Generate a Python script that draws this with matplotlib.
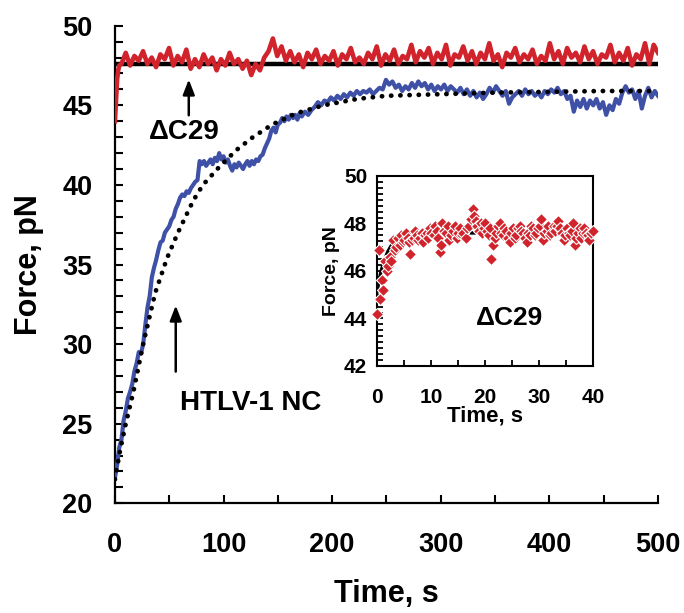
import numpy as np
import matplotlib
matplotlib.use("Agg")
import matplotlib.pyplot as plt
from matplotlib.ticker import MultipleLocator

plt.rcParams["font.family"] = ["Liberation Sans", "DejaVu Sans"]
plt.rcParams["font.weight"] = "bold"

# ---- main panel data ----
# dC29 trace: first few seconds, then every ~4 s
red_t_start = [0, 1, 2, 3, 4]
red_f_start = [44.0, 45.3, 46.6, 47.2, 47.5]
red_f = [47.6, 48.3, 47.5, 48.1, 47.8, 48.4, 47.6, 48.0, 47.4, 48.2, 47.9, 48.6, 47.5, 48.1,
         47.7, 48.5, 47.3, 47.9, 47.4, 48.2, 47.6, 48.0, 47.2, 47.9, 47.5, 48.3, 47.6, 47.9,
         47.3, 47.8, 46.9, 47.6, 47.2, 48.0, 48.4, 49.2, 48.1, 48.7, 47.8, 48.4, 47.7, 48.2,
         47.4, 48.3, 47.9, 48.5, 47.6, 48.1, 47.8, 48.4, 47.5, 48.2, 47.9, 48.6, 47.7, 48.0,
         47.6, 48.3, 47.9, 48.7, 47.5, 48.2, 47.8, 48.5, 47.6, 48.1, 47.9, 48.8, 47.7, 48.4,
         48.0, 48.6, 47.6, 48.3, 47.9, 48.8, 47.5, 48.2, 48.0, 48.7, 47.8, 48.4, 47.6, 48.3,
         47.9, 48.9, 47.8, 48.2, 47.4, 48.3, 48.0, 48.6, 47.7, 48.2, 47.9, 48.5, 47.6, 48.1,
         47.8, 48.9, 47.9, 48.4, 47.6, 48.6, 48.0, 48.3, 47.7, 48.7, 47.9, 48.4, 47.6, 48.2,
         48.0, 48.8, 47.7, 48.3, 47.8, 48.6, 47.5, 48.2, 47.9, 48.9, 47.6, 48.8, 48.3]
red_t = red_t_start + list(np.linspace(6, 500, len(red_f)))
red_f = red_f_start + red_f

# HTLV-1 NC trace, rising part (every 2 s up to 170 s)
blue_f_rise = [21.6, 22.4, 23.5, 24.0, 25.2, 25.8, 26.6, 27.0, 27.5, 28.3, 28.8, 29.5, 29.4,
               30.0, 31.2, 32.3, 33.0, 34.2, 34.8, 35.3, 35.9, 36.4, 36.5, 37.0, 37.2, 37.4,
               37.8, 38.0, 38.5, 38.8, 39.2, 39.4, 39.3, 39.6, 39.5, 39.8, 40.0, 40.2, 40.3,
               41.5, 41.3, 41.5, 41.2, 41.4, 41.6, 41.3, 41.7, 41.5, 42.0, 41.6, 41.8, 41.4,
               41.6, 41.2, 40.9, 41.3, 41.1, 41.4, 41.2, 41.0, 41.3, 41.5, 41.2, 41.5, 41.3,
               41.6, 41.5, 41.8, 41.9, 42.3, 42.6, 42.9, 43.4, 43.6, 43.3, 43.8, 43.9, 44.2,
               44.0, 44.3, 44.1, 44.4, 44.2, 44.4, 44.1, 44.5]
# plateau part (every 3 s from 172 s)
blue_f_late = [44.3, 44.6, 44.4, 44.7, 44.9, 45.2, 45.0, 45.3, 45.2, 45.5, 45.3, 45.6, 45.4,
               45.7, 45.5, 45.8, 45.6, 45.9, 45.7, 45.9, 45.8, 46.0, 45.7, 45.9, 46.1, 46.0,
               46.6, 46.3, 46.5, 46.1, 46.3, 45.9, 46.2, 46.0, 46.4, 46.1, 46.5, 46.2, 46.4,
               46.0, 46.3, 45.9, 46.2, 46.0, 46.3, 45.9, 46.2, 46.0, 45.8, 46.1, 45.7, 46.0,
               45.6, 45.9, 45.5, 45.8, 45.4, 45.7, 46.1, 45.8, 46.2, 45.9, 45.6, 45.9, 45.1,
               45.5, 45.7, 45.9, 45.6, 46.0, 45.7, 45.9, 45.6, 45.8, 45.5, 45.9, 45.7, 46.0,
               45.8, 46.1, 45.7, 45.9, 45.4, 45.6, 44.6, 45.3, 44.9, 45.4, 44.8, 45.3, 45.0,
               45.4, 44.8, 45.2, 44.4, 45.0, 44.7, 45.4, 45.1, 45.8, 46.2, 45.8, 46.0, 45.4,
               45.9, 44.8, 45.6, 46.1, 45.5, 45.9, 45.6]
blue_t = list(np.linspace(0, 170, len(blue_f_rise))) + list(np.linspace(172, 500, len(blue_f_late)))
blue_f = blue_f_rise + blue_f_late

# dotted fit through the HTLV-1 NC trace
fit_t = [0, 5, 10, 17, 26, 37, 48, 58, 72, 81, 97, 112, 127, 145, 167, 192, 223, 250, 300,
         350, 400, 450, 500]
fit_f = [21.5, 23.4, 25.0, 27.0, 30.0, 33.2, 35.4, 37.0, 39.0, 40.0, 41.2, 42.2, 43.0, 43.8,
         44.5, 45.0, 45.4, 45.6, 45.7, 45.8, 45.85, 45.9, 45.9]

# solid fit through the dC29 trace
fit2_t = [0, 500]
fit2_f = [47.6, 47.6]

# ---- inset data (first 40 s of dC29) ----
ins_t = [0.0, 0.3, 0.6, 0.9, 1.2, 1.5, 1.8, 2.1, 2.4, 2.7,
         3.0, 3.3, 3.6, 3.9, 4.2, 4.5, 4.8, 5.1, 5.4, 5.7,
         6.0, 6.2, 6.5, 6.8, 7.1, 7.4, 7.7, 8.0, 8.3, 8.6,
         8.9, 9.2, 9.5, 9.8, 10.1, 10.5, 10.8, 11.1, 11.4, 11.6,
         11.8, 12.1, 12.4, 12.8, 13.1, 13.4, 13.7, 14.0, 14.4, 14.8,
         15.1, 15.4, 15.7, 16.0, 16.4, 16.7, 17.0, 17.4, 17.7, 18.0,
         18.3, 18.6, 18.9, 19.2, 19.5, 19.8, 20.1, 20.4, 20.7, 21.0,
         21.2, 21.5, 21.8, 22.1, 22.4, 22.7, 23.0, 23.3, 23.6, 23.9,
         24.2, 24.6, 24.9, 25.2, 25.5, 25.8, 26.1, 26.4, 26.7, 27.0,
         27.4, 27.7, 28.0, 28.3, 28.6, 28.9, 29.2, 29.5, 29.8, 30.1,
         30.4, 30.7, 31.0, 31.4, 31.7, 32.0, 32.3, 32.7, 33.0, 33.3,
         33.6, 33.9, 34.2, 34.6, 34.9, 35.2, 35.5, 35.8, 36.1, 36.3,
         36.6, 36.9, 37.2, 37.5, 37.8, 38.1, 38.4, 38.7, 39.0, 39.3,
         39.6, 40.0]
ins_f = [44.2, 46.9, 44.8, 45.6, 45.2, 46.4, 46.0, 46.2, 46.6, 46.4,
         47.3, 46.9, 47.0, 47.4, 47.1, 47.5, 47.2, 47.3, 47.6, 47.4,
         47.2, 46.7, 47.3, 47.4, 47.7, 47.5, 47.3, 47.4, 47.6, 47.2,
         47.5, 47.6, 47.4, 47.8, 47.6, 47.5, 47.9, 47.7, 47.4, 46.8,
         47.1, 48.0, 47.7, 47.6, 47.9, 47.3, 47.5, 47.7, 47.9, 47.4,
         47.6, 47.8, 47.5, 47.6, 47.4, 47.8, 47.9, 48.2, 48.6, 48.3,
         48.1, 47.9, 47.7, 48.0, 47.6, 47.8, 48.0, 47.7, 47.5, 47.8,
         46.5, 47.1, 47.4, 47.6, 47.9, 48.0, 47.6, 47.5, 47.8, 47.7,
         47.4, 47.2, 47.6, 47.8, 47.4, 47.5, 47.8, 47.9, 47.7, 47.6,
         47.4, 47.2, 47.6, 47.5, 47.9, 47.8, 47.5, 47.6, 47.8, 47.9,
         48.2, 47.3, 47.6, 47.7, 47.9, 47.5, 47.6, 47.9, 47.7, 47.9,
         48.1, 47.8, 47.6, 47.3, 47.5, 47.8, 47.6, 47.5, 47.7, 48.0,
         47.1, 47.4, 47.6, 47.8, 47.4, 47.6, 47.8, 47.6, 47.5, 47.3,
         47.6, 47.7]
ins_fit_t = [0, 0.4, 0.8, 1.3, 2, 3, 5, 8, 40]
ins_fit_f = [45.1, 45.6, 46.0, 46.4, 46.8, 47.2, 47.5, 47.6, 47.6]

RED = "#D0232C"
BLUE = "#3F51A6"

fig = plt.figure(figsize=(6.84, 6.13), dpi=100)
ax = fig.add_axes([0.168, 0.179, 0.794, 0.779])

ax.plot(fit2_t, fit2_f, color="black", lw=3.2, zorder=2)
ax.plot(red_t, red_f, color=RED, lw=3.3, zorder=3)
ax.plot(blue_t, blue_f, color=BLUE, lw=3.0, zorder=3)
ax.plot(fit_t, fit_f, color="black", lw=3.4, linestyle=(0, (0.05, 1.9)),
        dash_capstyle="round", zorder=4)

ax.set_xlim(0, 500)
ax.set_ylim(20, 50)
ax.xaxis.set_major_locator(MultipleLocator(100))
ax.xaxis.set_minor_locator(MultipleLocator(50))
ax.yaxis.set_major_locator(MultipleLocator(5))
ax.yaxis.set_minor_locator(MultipleLocator(1))
for s in ["top", "right"]:
    ax.spines[s].set_visible(False)
for s in ["left", "bottom"]:
    ax.spines[s].set_linewidth(1.6)
ax.tick_params(which="both", direction="in", width=1.5)
ax.tick_params(which="major", length=6)
ax.tick_params(which="minor", length=6)
ax.tick_params(axis="y", which="major", labelsize=19.5, pad=16)
ax.tick_params(axis="x", which="major", labelsize=19.5, pad=21)
for lab in ax.get_xticklabels() + ax.get_yticklabels():
    lab.set_fontweight("bold")

fig.text(0.565, 0.031, "Time, s", fontsize=22, fontweight="bold", ha="center", va="center")
fig.text(0.042, 0.568, "Force, pN", fontsize=22, fontweight="bold", ha="center", va="center",
         rotation=90)

# arrows and labels
ax.annotate("", xy=(68, 46.8), xytext=(68, 44.2),
            arrowprops=dict(arrowstyle="-|>,head_width=0.35,head_length=0.9", color="black", lw=1.8))
ax.text(64, 43.3, "\u0394C29", fontsize=20, fontweight="bold", ha="center", va="center")
ax.annotate("", xy=(56, 32.6), xytext=(56, 28.1),
            arrowprops=dict(arrowstyle="-|>,head_width=0.35,head_length=0.9", color="black", lw=1.8))
ax.text(60, 26.3, "HTLV-1 NC", fontsize=20, fontweight="bold", ha="left", va="center")

# ---- inset ----
axi = fig.add_axes([0.551, 0.403, 0.316, 0.310])
axi.plot(ins_fit_t, ins_fit_f, color="black", lw=2.5, zorder=2)
axi.plot(ins_t, ins_f, linestyle="none", marker="D", markersize=6.5, color=RED,
         markeredgecolor="white", markeredgewidth=0.8, zorder=3, clip_on=False)
axi.set_xlim(0, 40)
axi.set_ylim(42, 50)
axi.xaxis.set_major_locator(MultipleLocator(10))
axi.xaxis.set_minor_locator(MultipleLocator(5))
axi.yaxis.set_major_locator(MultipleLocator(2))
axi.yaxis.set_minor_locator(MultipleLocator(0.25))
for s in axi.spines.values():
    s.set_linewidth(1.5)
axi.tick_params(which="both", direction="in", width=1.3, right=False, top=False)
axi.tick_params(which="major", length=4)
axi.tick_params(which="minor", length=4)
axi.tick_params(axis="y", which="major", labelsize=15, pad=7)
axi.tick_params(axis="x", which="major", labelsize=15, pad=16)
for lab in axi.get_xticklabels() + axi.get_yticklabels():
    lab.set_fontweight("bold")
axi.set_xlabel("Time, s", fontsize=16, fontweight="bold", labelpad=-1)
axi.set_ylabel("Force, pN", fontsize=14, fontweight="bold", labelpad=3)
axi.text(24.6, 44.0, "\u0394C29", fontsize=19, fontweight="bold", ha="center", va="center")

fig.savefig("out.png", dpi=100)
